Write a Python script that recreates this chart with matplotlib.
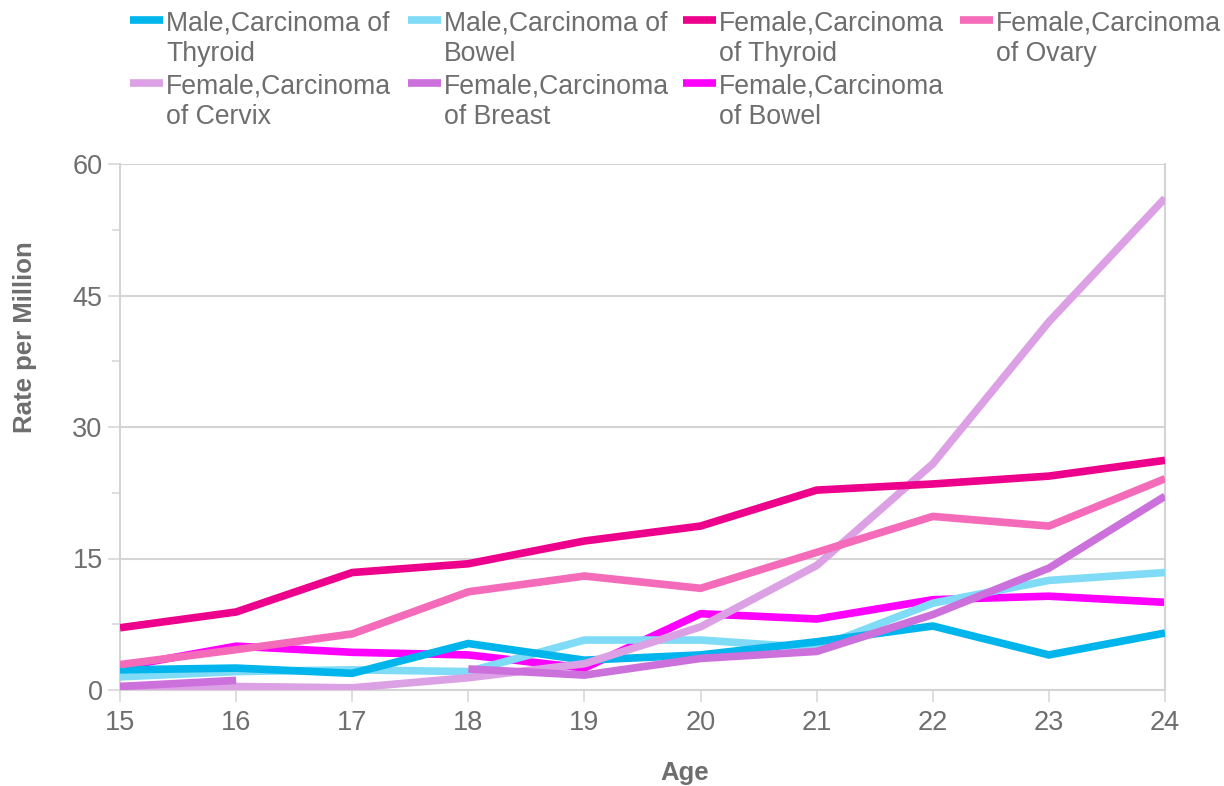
import numpy as np
import matplotlib.pyplot as plt
from matplotlib.lines import Line2D
from matplotlib.ticker import MultipleLocator

# ages
ages = np.arange(15, 25)

# rate per million
male_thyroid = [2.3, 2.5, 1.9, 5.3, 3.4, 4.0, 5.5, 7.3, 4.0, 6.5]
male_bowel = [1.5, 2.1, 2.3, 2.1, 5.7, 5.7, 4.8, 9.9, 12.5, 13.4]
female_thyroid = [7.1, 8.9, 13.4, 14.4, 17.0, 18.7, 22.8, 23.5, 24.4, 26.2]
female_ovary = [2.9, 4.6, 6.4, 11.2, 13.0, 11.6, 15.7, 19.8, 18.7, 24.1]
female_cervix = [0.4, 0.4, 0.25, 1.4, 3.0, 7.2, 14.2, 25.8, 42.0, 56.1]
female_breast = [0.4, 1.1, np.nan, 2.4, 1.7, 3.6, 4.4, 8.6, 13.9, 22.1]
female_bowel = [2.6, 5.0, 4.3, 4.0, 2.5, 8.7, 8.1, 10.3, 10.7, 10.0]

labels = ['Male,Carcinoma of\nThyroid', 'Male,Carcinoma of\nBowel',
          'Female,Carcinoma\nof Thyroid', 'Female,Carcinoma\nof Ovary',
          'Female,Carcinoma\nof Cervix', 'Female,Carcinoma\nof Breast',
          'Female,Carcinoma\nof Bowel']
series = [male_thyroid, male_bowel, female_thyroid, female_ovary,
          female_cervix, female_breast, female_bowel]
colors = ['#00b5eb', '#80dbf6', '#ec008c', '#f46bb9',
          '#dca0e5', '#cc70dc', '#ff00ff']
zorders = [4, 3, 6, 7, 5, 6, 2]

txt = '#6e6e6e'
grid = '#d4d4d4'
plt.rcParams['font.family'] = ['Liberation Sans', 'DejaVu Sans']

fig = plt.figure(figsize=(12.24, 7.86), dpi=100)
W, H = 1224, 786
ax = fig.add_axes([120 / W, 1 - 690 / H, 1045 / W, 526 / H])

for y, c, z in zip(series, colors, zorders):
    ax.plot(ages, y, color=c, lw=5.5, solid_joinstyle='miter',
            solid_capstyle='butt', zorder=z)

ax.set_xlim(15, 24)
ax.set_ylim(0, 60)
ax.set_xticks(ages)
ax.yaxis.set_major_locator(MultipleLocator(15))
ax.yaxis.set_minor_locator(MultipleLocator(7.5))
ax.grid(axis='y', color=grid, lw=1.5, zorder=0)
ax.set_axisbelow(True)
for s in ['left', 'right', 'bottom']:
    ax.spines[s].set_color(grid)
    ax.spines[s].set_linewidth(1.5)
ax.spines['top'].set_visible(False)
ax.tick_params(axis='both', which='major', length=8.5, width=1.1, color=grid,
               labelcolor=txt, labelsize=19.5)
ax.tick_params(axis='y', which='major', pad=4)
ax.tick_params(axis='x', which='major', pad=6)
ax.tick_params(axis='y', which='minor', length=5.5, width=1.1, color=grid)

ax.set_xlabel('Age', fontsize=18.5, fontweight='bold', color=txt)
ax.set_ylabel('Rate per Million', fontsize=18.5, fontweight='bold', color=txt)
ax.xaxis.set_label_coords(0.54, -0.135)
ax.yaxis.set_label_coords(-0.079, 0.67)

# legend, drawn by hand so the swatch sits on the first line of each label
hx = [130, 408, 683, 960]
hy = [20, 83]
for i, (lab, c) in enumerate(zip(labels, colors)):
    r, k = divmod(i, 4)
    x0 = hx[k]
    y0 = hy[r]
    fig.add_artist(Line2D([x0 / W, (x0 + 33) / W], [1 - y0 / H, 1 - y0 / H],
                          color=c, lw=5.5, solid_capstyle='butt'))
    fig.text((x0 + 36) / W, 1 - (y0 - 9.5) / H, lab, fontsize=19.2, color=txt,
             va='top', ha='left', linespacing=1.24)

fig.savefig('out.png', dpi=100)
